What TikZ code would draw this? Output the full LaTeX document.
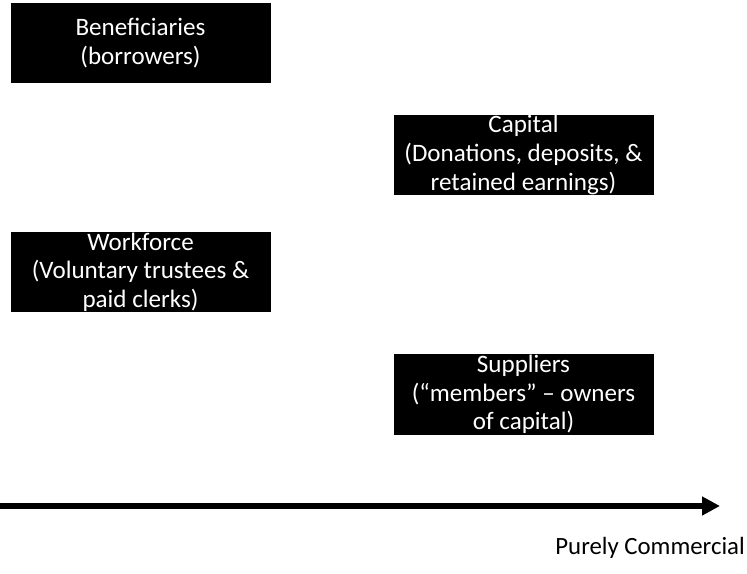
\documentclass[tikz,border=0pt]{standalone}
\usepackage{fontspec}
\setmainfont{Carlito}
\usetikzlibrary{arrows.meta}
\begin{document}
\begin{tikzpicture}[x=0.75pt, y=-0.75pt, line join=round,
		blackbox/.style={fill=black, inner sep=0pt, minimum width=195pt, minimum height=60pt},
		boxtext/.style={text=white, align=center, inner sep=0pt, font=\fontsize{18.8pt}{21.5pt}\selectfont}]
				\useasboundingbox (0,0) rectangle (747,574);
				% the four boxes, text laid over them so that it may run past the edge
				\node[blackbox] (ben) at (140.5,43) {};
				\node[boxtext] (bentext) at (ben.center) {Beneficiaries\\(borrowers)};
				\node[blackbox] (cap) at (523.5,155) {};
				\node[boxtext] (captext) at (cap.center) {Capital\\(Donations, deposits, \&\\retained earnings)};
				\node[blackbox] (work) at (140.5,272) {};
				\node[boxtext] (worktext) at (work.center) {Workforce\\(Voluntary trustees \&\\paid clerks)};
				\node[blackbox] (supp) at (523.5,394.5) {};
				\node[boxtext] (supptext) at (supp.center) {Suppliers\\(“members” – owners\\of capital)};
				% axis at the bottom
				\coordinate (start) at (0,506);
				\coordinate (end) at (720,506);
				\draw[line width=5pt, -{Triangle[length=13.5pt, width=13.5pt]}] (start)--(end);
				\node[anchor=base east, inner sep=0pt, font=\fontsize{18.6pt}{21.5pt}\selectfont] (com) at (745,554) {Purely Commercial};
		\end{tikzpicture}
\end{document}
